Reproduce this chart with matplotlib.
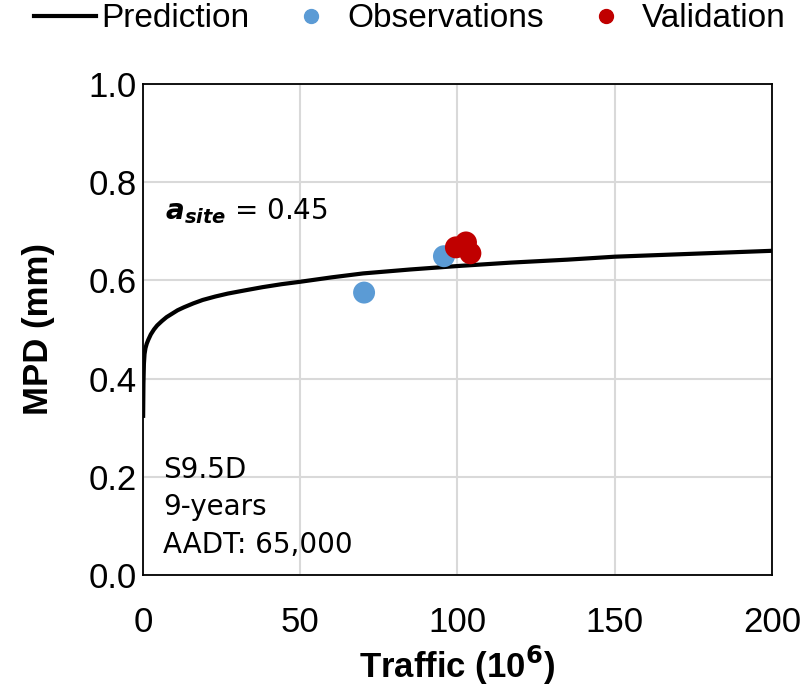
import matplotlib
matplotlib.use("Agg")
import matplotlib.pyplot as plt
from matplotlib.lines import Line2D

# prediction curve
pred_x = [0.05, 0.15, 0.3, 0.5, 0.8, 1.2, 1.7, 2.5, 3.5, 4.5, 6, 7.5, 9, 11,
          13, 16, 19, 23, 27, 32, 38, 44, 50, 60, 70, 85, 100, 117, 135, 150,
          175, 200]
pred_y = [0.32, 0.39, 0.43, 0.45, 0.462, 0.471, 0.479, 0.490, 0.500, 0.508,
          0.517, 0.525, 0.531, 0.539, 0.545, 0.553, 0.560, 0.567, 0.573, 0.579,
          0.586, 0.592, 0.597, 0.606, 0.614, 0.622, 0.629, 0.636, 0.642, 0.648,
          0.654, 0.660]

obs_x = [70.3, 95.7]
obs_y = [0.575, 0.649]

val_x = [99.5, 102.7, 104.1]
val_y = [0.667, 0.677, 0.655]

x_ticks = [0, 50, 100, 150, 200]
y_ticks = [0.0, 0.2, 0.4, 0.6, 0.8, 1.0]

site_lines = ["S9.5D", "9-years", "AADT: 65,000"]

BLUE = "#5B9BD5"
RED = "#C00000"

plt.rcParams.update({"font.family": ["Liberation Sans", "DejaVu Sans"],
                     "mathtext.fontset": "dejavusans"})

fig = plt.figure(figsize=(8.05, 6.9), dpi=100)
ax = fig.add_axes([0.1776, 0.1664, 0.959 - 0.1776, 0.8787 - 0.1664])

ax.plot(pred_x, pred_y, color="black", lw=3, zorder=3, solid_capstyle="butt",
        solid_joinstyle="round")
ax.scatter(obs_x, obs_y, s=250, color=BLUE, edgecolors="none", zorder=4)
ax.scatter(val_x, val_y, s=250, color=RED, edgecolors="none", zorder=5)

ax.set_xlim(0, 200)
ax.set_ylim(0, 1.0)
ax.set_xticks(x_ticks)
ax.set_yticks(y_ticks)
ax.set_yticklabels([f"{v:.1f}" for v in y_ticks])
ax.tick_params(length=0, labelsize=25, pad=4.5)
ax.tick_params(axis="x", pad=22)
ax.grid(True, color="#d9d9d9", lw=1.5, zorder=0)
ax.set_axisbelow(True)
for sp in ax.spines.values():
    sp.set_color("black")
    sp.set_linewidth(1.3)

ax.set_xlabel(r"Traffic (10$^{\mathbf{6}}$)", fontsize=25, fontweight="bold", labelpad=4)
ax.set_ylabel("MPD (mm)", fontsize=25, fontweight="bold", labelpad=24)

ax.text(7, 0.74, r"$\mathbfit{a}_{\mathbfit{site}}$ = 0.45", fontsize=20,
        family="DejaVu Sans", va="center", ha="left")
for i, line in enumerate(site_lines):
    ax.text(6.4, 0.214 - i * 0.076, line, fontsize=20, family="DejaVu Sans",
            va="center", ha="left")

handles = [Line2D([0], [0], color="black", lw=3),
           Line2D([0], [0], marker="o", ls="none", color=BLUE, markersize=10),
           Line2D([0], [0], marker="o", ls="none", color=RED, markersize=10)]
fig.legend(handles, ["Prediction", "Observations", "Validation"],
           loc="center", bbox_to_anchor=(0.509, 0.9725), ncol=3,
           frameon=False, fontsize=24, handlelength=1.86, handletextpad=0.15,
           columnspacing=0.93, borderaxespad=0, borderpad=0)

fig.savefig("out.png", dpi=100)
